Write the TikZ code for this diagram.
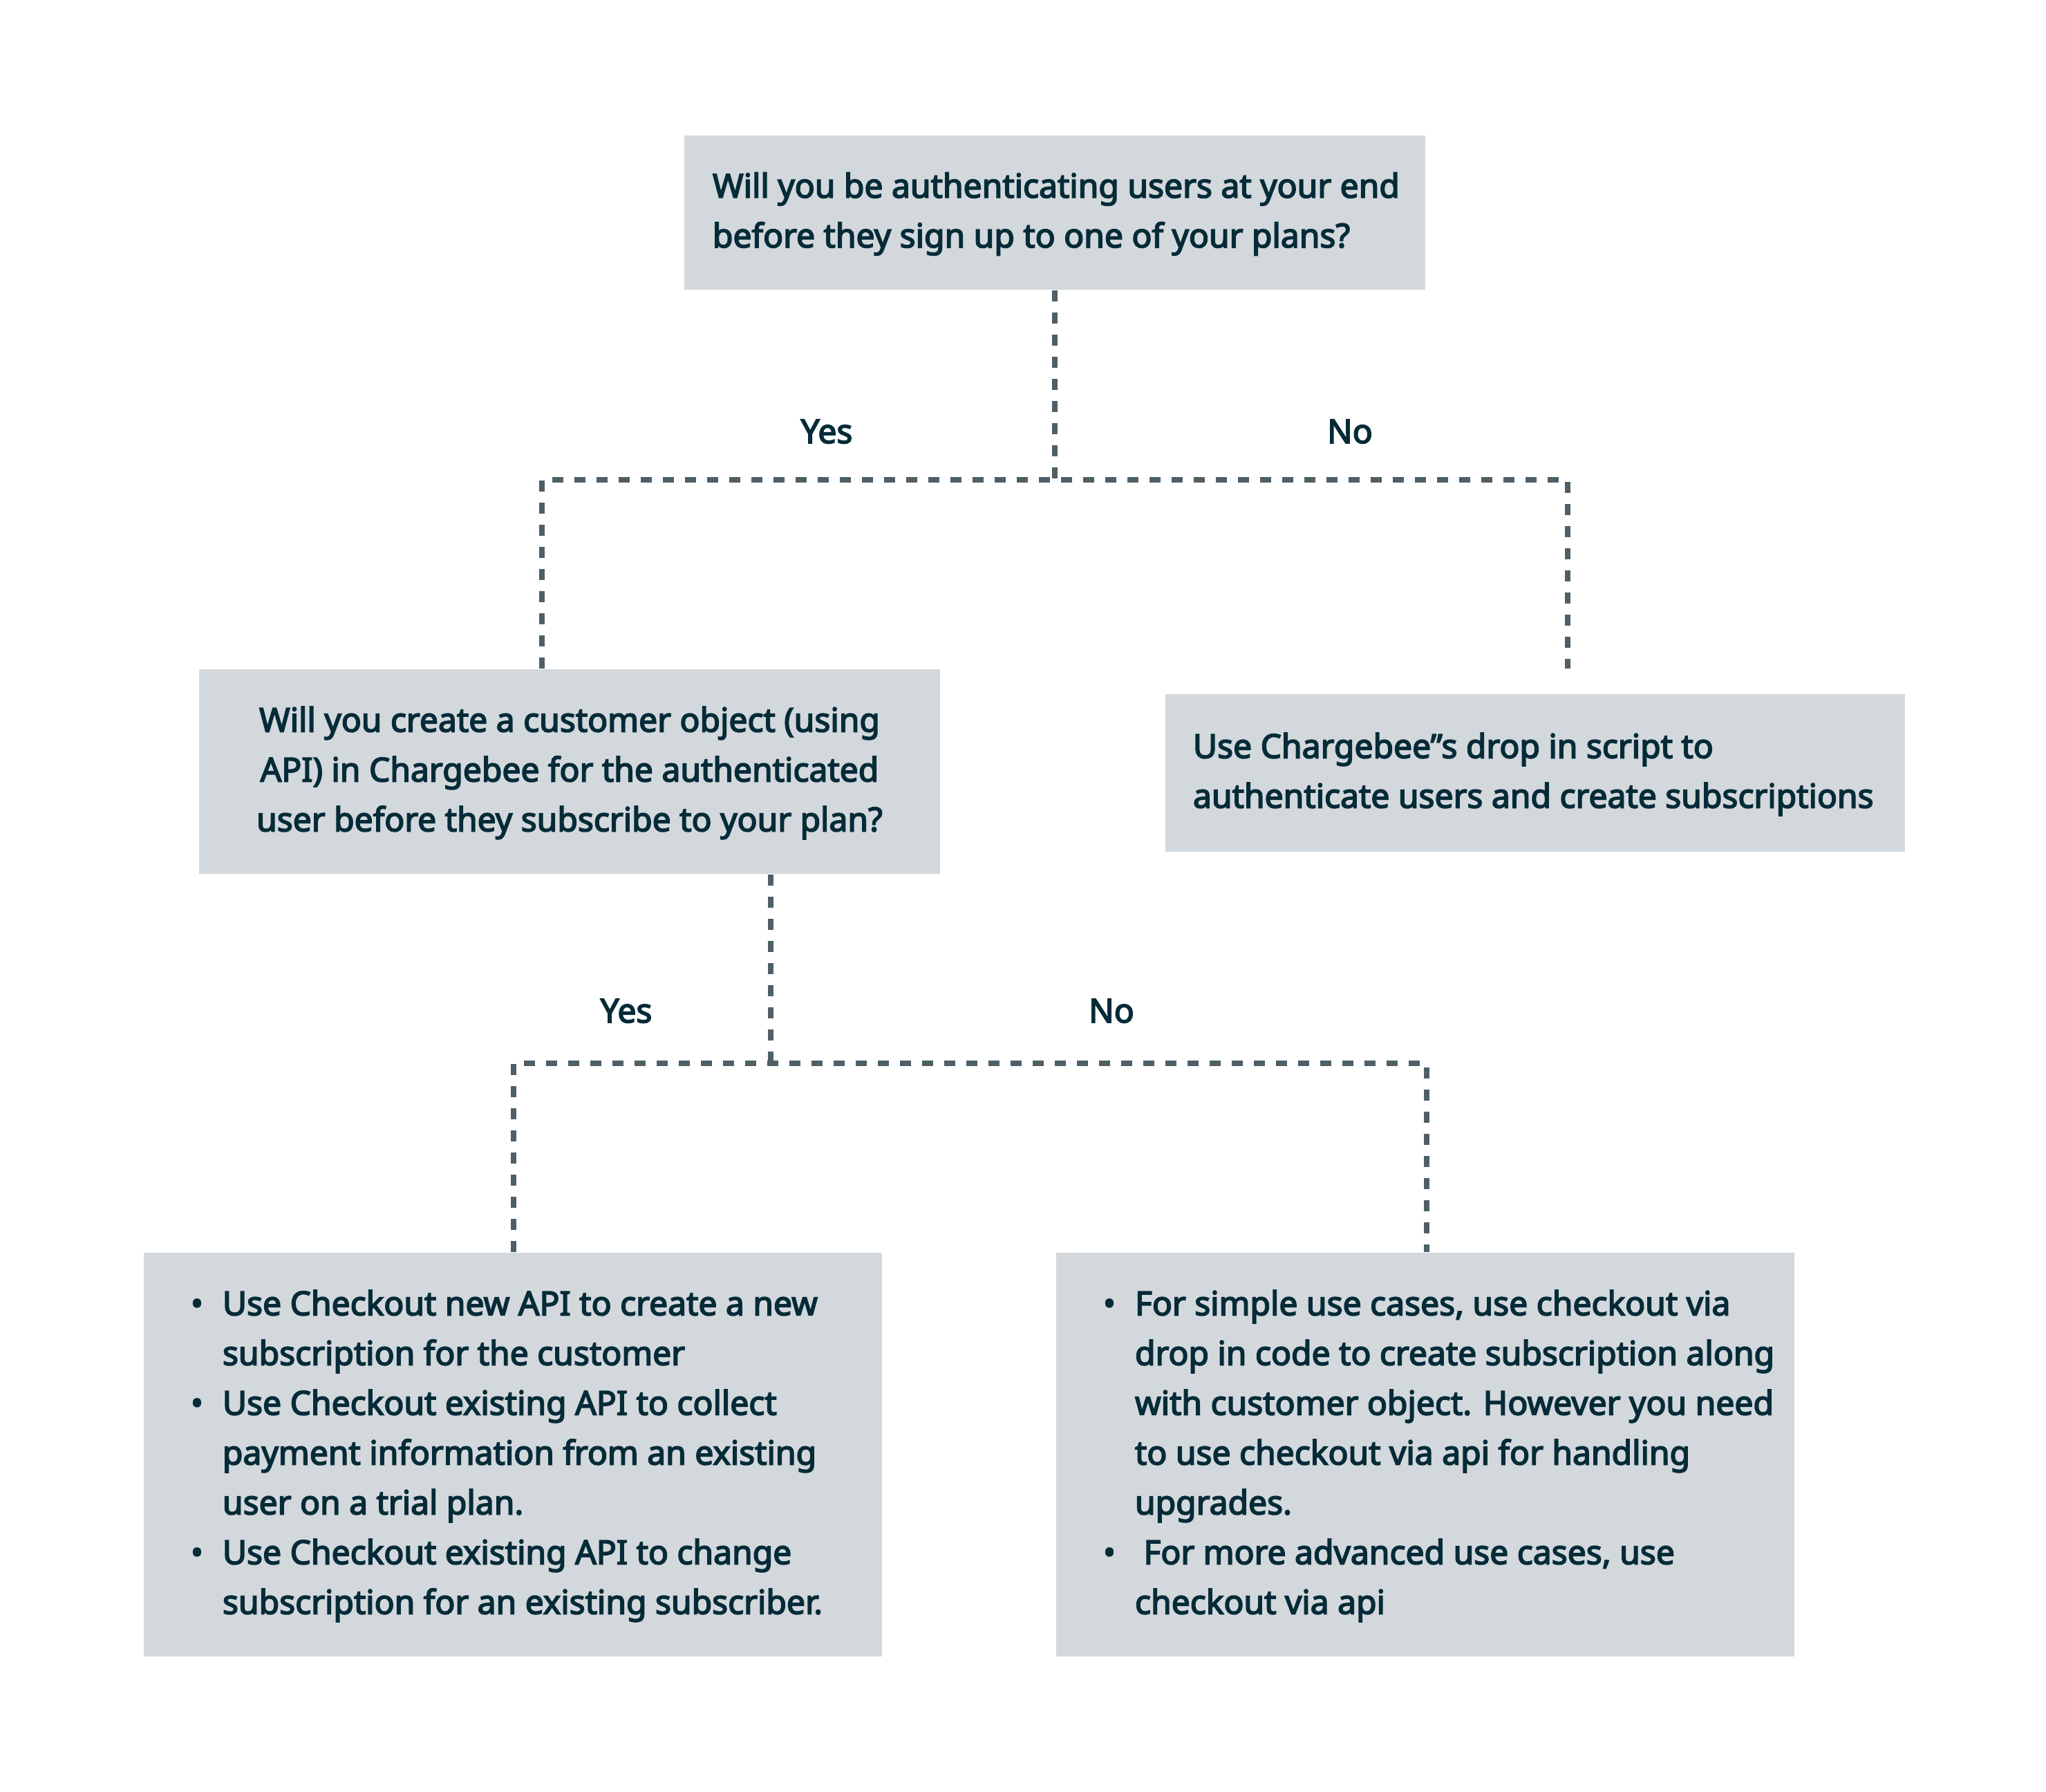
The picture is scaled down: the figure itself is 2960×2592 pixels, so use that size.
\documentclass[tikz,border=0pt]{standalone}
\usepackage{fontspec}
\setmainfont{Noto Sans}[AutoFakeBold=3.5]
\usepackage{tikz}
\usetikzlibrary{positioning}
\definecolor{boxgray}{HTML}{D3D8DC}
\definecolor{inkteal}{HTML}{062B38}
\definecolor{linegray}{HTML}{4F5F67}
\newcommand\itembul{\llap{\textbullet\hspace{7pt}}}

\begin{document}
\begin{tikzpicture}[x=0.25pt,y=-0.25pt,
  box/.style={fill=boxgray,inner sep=0pt},
  txt/.style={text=inkteal,inner sep=0pt,align=left,font=\fontsize{12pt}{18pt}\selectfont\bfseries},
  link/.style={linegray,line width=2pt,dash pattern=on 4pt off 4pt},
  answer/.style={text=inkteal,inner sep=0pt,anchor=base,font=\fontsize{12pt}{18pt}\selectfont\bfseries}]
\useasboundingbox (0,0) rectangle (2960,2592);
\node[box,minimum width=268pt,minimum height=55.75pt] (q1) at (1526,307.5) {};
\node[txt,anchor=west] at ([xshift=10.25pt]q1.west) {\strut Will you be authenticating users at your end\\
before they sign up to one of your plans?\strut};
\node[box,txt,align=center,minimum width=268pt,minimum height=74pt] (q2) at (824,1116) {\strut Will you create a customer object (using\\
API) in Chargebee for the authenticated\\
user before they subscribe to your plan?\strut};
\node[box,minimum width=267.5pt,minimum height=57pt] (r1) at (2221,1118) {};
\node[txt,anchor=west] at ([xshift=10pt]r1.west) {\strut Use Chargebee”s drop in script to\\
authenticate users and create subscriptions\strut};
\node[box,minimum width=267pt,minimum height=146pt] (r2) at (742,2104) {};
\node[txt,anchor=west] at ([xshift=28.5pt]r2.west) {\itembul\strut Use Checkout new API to create a new\\
subscription for the customer\\
\itembul Use Checkout existing API to collect\\
payment information from an existing\\
user on a trial plan.\\
\itembul Use Checkout existing API to change\\
subscription for an existing subscriber.\strut};
\node[box,minimum width=267pt,minimum height=146pt] (r3) at (2062,2104) {};
\node[txt,anchor=west] at ([xshift=28.5pt]r3.west) {\itembul\strut For simple use cases, use checkout via\\
drop in code to create subscription along\\
with customer object. However you need\\
to use checkout via api for handling\\
upgrades.\\
\itembul\ For more advanced use cases, use\\
checkout via api\strut};
\coordinate (j1) at (1526,694);
\coordinate (j1l) at (784,694);
\coordinate (j1r) at (2268,694);
\coordinate (j2) at (1115,1538);
\coordinate (j2l) at (743,1538);
\coordinate (j2r) at (2064,1538);
\draw[link] (q1.south) -- (j1);
\draw[link] (j1l |- q2.north) -- (j1l) -- (j1r) -- (j1r |- q2.north);
\draw[link] (j2 |- q2.south) -- (j2);
\draw[link] (j2l |- r2.north) -- (j2l) -- (j2r) -- (j2r |- r3.north);
\node[answer] (yes1) at (1196,641) {Yes};
\node[answer] (no1) at (1953,641) {No};
\node[answer] (yes2) at (906,1479) {Yes};
\node[answer] (no2) at (1608,1479) {No};
\end{tikzpicture}
\end{document}
